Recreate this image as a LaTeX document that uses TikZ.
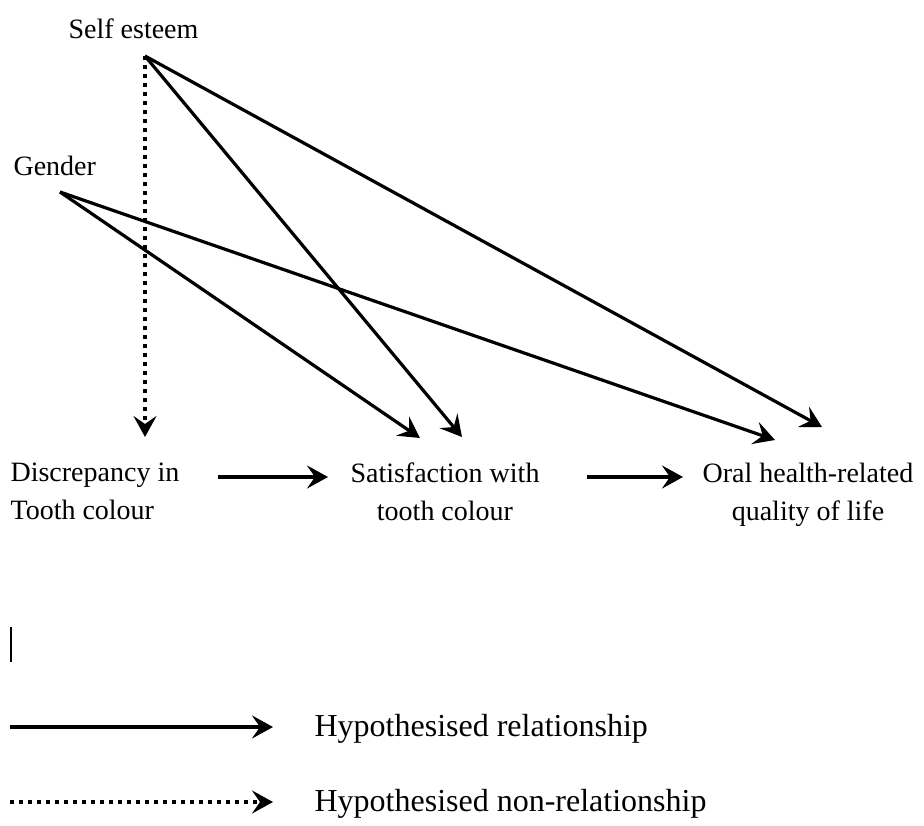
\documentclass[tikz,border=0pt]{standalone}
\usepackage{fontspec}
\setmainfont{Liberation Serif}
\usetikzlibrary{arrows.meta}
\begin{document}
\begin{tikzpicture}[x=1pt, y=-1pt, line width=3.2pt,
    fleche/.style={-{Stealth[length=21pt, width=23pt, inset=8pt]}},
    pointille/.style={fleche, dash pattern=on 3.5pt off 5.5pt},
    texte/.style={inner sep=0pt, font=\fontsize{28}{38}\selectfont},
    legende/.style={inner sep=0pt, font=\fontsize{32}{38}\selectfont}]
                \useasboundingbox (0, 0) rectangle (924, 825);

                % Déclaration des variables
                \node[texte, anchor=base west] (self) at (67, 38) {Self esteem};
                \node[texte, anchor=base west] (gender) at (12, 175) {Gender};
                \node[texte, anchor=north west, align=left] (disc) at (9, 461) {Discrepancy in\\Tooth colour};
                \node[texte, anchor=north, align=center] (sat) at (445, 461) {Satisfaction with\\tooth colour};
                \node[texte, anchor=north, align=center] (ohr) at (808, 461) {Oral health-related\\quality of life};

                % Points de départ et d'arrivée des flèches
                \coordinate (selfout) at (145, 56);
                \coordinate (genderout) at (60, 192);
                \coordinate (discin) at (145, 437);
                \coordinate (satg) at (420, 438);
                \coordinate (sats) at (462, 437);
                \coordinate (ohrg) at (775, 440);
                \coordinate (ohrs) at (822, 427);
                \coordinate (discout) at (218, 477);
                \coordinate (satin) at (328, 477);
                \coordinate (satout) at (587, 477);
                \coordinate (ohrin) at (683, 477);

                % Ajout des relations
                \draw[pointille] (selfout) -- (discin);
                \draw[fleche] (selfout) -- (sats);
                \draw[fleche] (selfout) -- (ohrs);
                \draw[fleche] (genderout) -- (satg);
                \draw[fleche] (genderout) -- (ohrg);
                \draw[fleche] (discout) -- (satin);
                \draw[fleche] (satout) -- (ohrin);

                % Trait vertical isolé
                \draw[line width=1.5pt] (11, 627) -- (11, 662);

                % Légende
                \coordinate (l1a) at (10, 727);
                \coordinate (l1b) at (273, 727);
                \coordinate (l2a) at (10, 802);
                \coordinate (l2b) at (273, 802);
                \draw[fleche] (l1a) -- (l1b);
                \draw[pointille] (l2a) -- (l2b);
                \node[legende, anchor=base west] (rel) at (313, 736) {Hypothesised relationship};
                \node[legende, anchor=base west] (nonrel) at (313, 811) {Hypothesised non-relationship};
            \end{tikzpicture}
\end{document}
